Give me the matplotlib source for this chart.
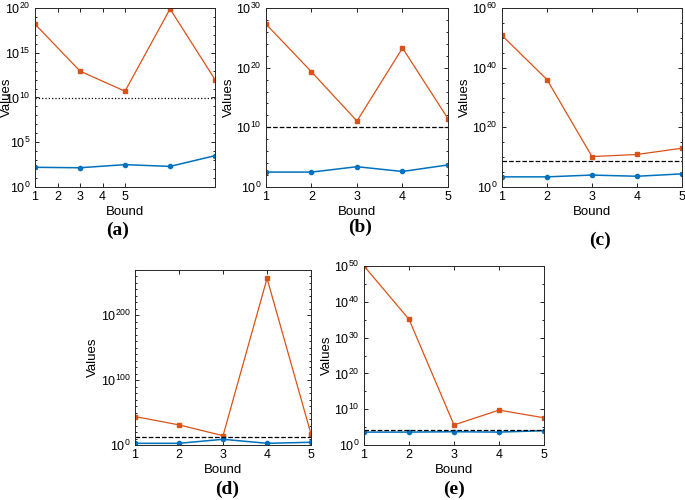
import numpy as np
import matplotlib
matplotlib.use('Agg')
import matplotlib.pyplot as plt
from matplotlib.ticker import FixedLocator, LogFormatterMathtext, NullFormatter

plt.rcParams['font.family'] = ['Liberation Sans', 'DejaVu Sans']
plt.rcParams['mathtext.default'] = 'regular'

# exponents (log10)
bound_a = [1, 3, 5, 7, 9]
upper_a = [18.2, 12.95, 10.7, 19.9, 12.0]
lower_a = [2.2, 2.15, 2.5, 2.3, 3.5]
ref_a = 9.9

bound = [1, 2, 3, 4, 5]
upper_b = [27.3, 19.3, 11.05, 23.3, 11.45]
lower_b = [2.5, 2.5, 3.4, 2.6, 3.7]
ref_b = 10.1

upper_c = [50.8, 36.0, 10.2, 10.9, 13.0]
lower_c = [3.4, 3.4, 4.0, 3.6, 4.4]
ref_c = 8.6

upper_d = [43.9, 31.0, 14.4, 257.0, 16.6]
lower_d = [2.6, 2.6, 8.8, 2.6, 4.2]
ref_d = 12.9

upper_e = [50.0, 35.1, 5.6, 9.75, 7.6]
lower_e = [3.6, 3.6, 3.7, 3.6, 4.0]
ref_e = 4.2

orange = '#D95319'
blue = '#0072BD'

panels = [
    # x, upper, lower, ref, ref style, xlim, ytop, major step, minor step, rect, label, label pos
    (bound_a, upper_a, lower_a, ref_a, ':', (1, 9), 20, 5, 1,
     [0.0511, 0.626, 0.2628, 0.358], '(a)', (0.172, 0.54)),
    (bound, upper_b, lower_b, ref_b, '--', (1, 5), 30, 10, 2,
     [0.3883, 0.626, 0.2657, 0.358], '(b)', (0.525, 0.545)),
    (bound, upper_c, lower_c, ref_c, '--', (1, 5), 60, 20, 5,
     [0.7328, 0.626, 0.2628, 0.358], '(c)', (0.876, 0.52)),
    (bound, upper_d, lower_d, ref_d, '--', (1, 5), 270, 100, 10,
     [0.1971, 0.11, 0.257, 0.35], '(d)', (0.331, 0.022)),
    (bound, upper_e, lower_e, ref_e, '--', (1, 5), 50, 10, 5,
     [0.5314, 0.11, 0.2628, 0.358], '(e)', (0.663, 0.022)),
]

fig = plt.figure(figsize=(6.85, 5), dpi=100)

for x, up, lo, ref, ls, xlim, ytop, step, mstep, rect, lab, lpos in panels:
    ax = fig.add_axes(rect)
    ax.set_yscale('log')
    ax.plot(x, 10.0 ** np.array(up), color=orange, marker='s', markersize=2.5,
            linewidth=0.9)
    ax.plot(x, 10.0 ** np.array(lo), color=blue, marker='o', markersize=3,
            linewidth=1.1)
    ax.axhline(10.0 ** ref, color='black', linestyle=ls, linewidth=0.9)
    ax.set_xlim(*xlim)
    ax.set_ylim(1, 10.0 ** ytop)
    ax.set_xticks([1, 2, 3, 4, 5])
    ax.yaxis.set_major_locator(FixedLocator([10.0 ** e for e in range(0, ytop + 1, step)]))
    ax.yaxis.set_minor_locator(FixedLocator([10.0 ** e for e in range(0, ytop + 1, mstep)]))
    ax.yaxis.set_major_formatter(LogFormatterMathtext())
    ax.yaxis.set_minor_formatter(NullFormatter())
    ax.tick_params(which='both', direction='in', top=True, right=True,
                   labelsize=9, width=0.6, pad=3)
    ax.tick_params(which='major', length=3)
    ax.tick_params(which='minor', length=1.5)
    for s in ax.spines.values():
        s.set_linewidth(0.7)
        s.set_color('#262626')
    ax.set_xlabel('Bound', fontsize=9.5, labelpad=2)
    ax.set_ylabel('Values', fontsize=9.5, labelpad=1)
    if lab == '(a)':
        # panel (a) sits at the left edge, its label is partly cut off there
        ax.yaxis.set_label_coords(-0.125, 0.5)
    fig.text(lpos[0], lpos[1], lab, ha='center', va='center', fontsize=14,
             fontweight='bold', family='Liberation Serif')

fig.savefig('out.png', dpi=100)
